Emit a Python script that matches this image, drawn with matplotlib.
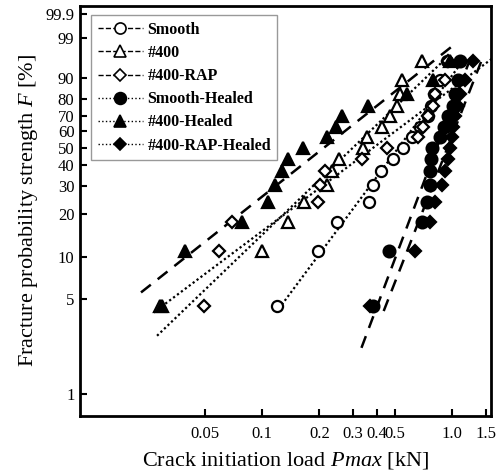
import numpy as np
import matplotlib
matplotlib.use("Agg")
import matplotlib.pyplot as plt
from matplotlib.lines import Line2D

plt.rcParams['font.family'] = ['Liberation Serif', 'DejaVu Serif']
plt.rcParams['mathtext.fontset'] = 'custom'
plt.rcParams['mathtext.rm'] = 'Liberation Serif'
plt.rcParams['mathtext.it'] = 'Liberation Serif:italic'

# cumulative fracture probability F [%] (median ranks, n = 15)
F = [4.5, 11.0, 17.5, 24.0, 30.5, 37.0, 43.5, 50.0, 56.5, 63.0, 69.5, 76.0, 82.5, 89.0, 95.5]

# crack initiation load Pmax [kN], sorted
smooth = [0.119, 0.197, 0.248, 0.366, 0.384, 0.423, 0.489, 0.552, 0.616, 0.679, 0.748, 0.775, 0.804, 0.865, 0.941]
p400 = [0.029, 0.100, 0.137, 0.166, 0.220, 0.234, 0.254, 0.340, 0.357, 0.428, 0.472, 0.514, 0.533, 0.546, 0.695]
p400_rap = [0.0495, 0.0594, 0.0695, 0.197, 0.202, 0.215, 0.336, 0.455, 0.662, 0.704, 0.748, 0.794, 0.814, 0.919, 0.953]
smooth_h = [0.384, 0.466, 0.695, 0.739, 0.766, 0.766, 0.775, 0.785, 0.865, 0.908, 0.953, 1.012, 1.037, 1.075, 1.102]
p400_h = [0.0298, 0.0393, 0.0785, 0.1075, 0.117, 0.127, 0.137, 0.164, 0.220, 0.245, 0.264, 0.361, 0.580, 0.794, 0.976]
p400_rap_h = [0.370, 0.639, 0.766, 0.814, 0.886, 0.919, 0.953, 0.976, 1.000, 1.012, 1.037, 1.075, 1.102, 1.170, 1.290]

labels = ['Smooth', '#400', '#400-RAP', 'Smooth-Healed', '#400-Healed', '#400-RAP-Healed']
loads = [smooth, p400, p400_rap, smooth_h, p400_h, p400_rap_h]
# range of F [%] covered by each Weibull fit line
fit_range = [(4.0, 95.0), (2.7, 96.0), (4.0, 96.0), (2.2, 97.0), (5.6, 98.5), (4.1, 96.5)]

yticks = [1, 5, 10, 20, 30, 40, 50, 60, 70, 80, 90, 99, 99.9]
xticks = [0.05, 0.1, 0.2, 0.3, 0.4, 0.5, 1.0, 1.5]
xticklabels = ['0.05', '0.1', '0.2', '0.3', '0.4', '0.5', '1.0', '1.5']


def weib(p):
    p = np.clip(np.asarray(p, dtype=float), 1e-9, 100 - 1e-9) / 100.0
    return np.log(-np.log(1 - p))


def weib_inv(w):
    return 100.0 * (1 - np.exp(-np.exp(np.asarray(w, dtype=float))))


markers = ['o', '^', 'D', 'o', '^', 'D']
filled = [False, False, False, True, True, True]
msize = [8, 9, 6.5, 8.5, 9, 6.5]
line_style = [(0, (1, 1.2)), (0, (1, 1.2)), (0, (1, 1.2)), (0, (5, 3.5)), (0, (5, 3.5)), (0, (5, 3.5))]

fig = plt.figure(figsize=(4.97, 4.75), dpi=100)
ax = fig.add_axes([80 / 497, 1 - 416 / 475, 411 / 497, 410 / 475])
ax.set_xscale('log')
ax.set_yscale('function', functions=(weib, weib_inv))

for x, lab, mk, fl, ms, ls, (flo, fhi) in zip(loads, labels, markers, filled, msize, line_style, fit_range):
    x = np.array(x)
    w = weib(F)
    m, b = np.polyfit(np.log(x), w, 1)
    wl = weib([flo, fhi])
    xl = np.exp((wl - b) / m)
    ax.plot(xl, [flo, fhi], color='k', lw=1.6 if not fl else 1.8, linestyle=ls, zorder=2)
    ax.plot(x, F, linestyle='none', marker=mk, ms=ms, mfc='k' if fl else 'white',
            mec='k', mew=1.6, zorder=3)

ax.set_xlim(0.011, 1.6)
ax.set_ylim(0.687, 99.9636)
ax.set_yticks(yticks)
ax.set_yticklabels([str(t) for t in yticks])
ax.set_xticks(xticks)
ax.set_xticklabels(xticklabels)
ax.minorticks_off()
ax.yaxis.set_minor_locator(matplotlib.ticker.NullLocator())
ax.xaxis.set_minor_locator(matplotlib.ticker.NullLocator())
ax.tick_params(direction='in', length=5, width=1.5, labelsize=12, top=False, right=False)
ax.tick_params(axis='x', pad=7)
ax.tick_params(axis='y', pad=4)
for s in ax.spines.values():
    s.set_linewidth(2)

ax.set_xlabel('Crack initiation load $Pmax$ [kN]', fontsize=16, labelpad=6)
ax.set_ylabel('Fracture probability strength $F$ [%]', fontsize=16, labelpad=4)

handles = []
for lab, mk, fl, ms in zip(labels, markers, filled, msize):
    handles.append(Line2D([], [], color='k', lw=1.0, linestyle='--' if not fl else ':',
                          marker=mk, ms=ms, mfc='k' if fl else 'white', mec='k', mew=1.2))
leg = ax.legend(handles, labels, loc='upper left', bbox_to_anchor=(0.02, 0.985),
                prop={'weight': 'bold', 'size': 11.5}, frameon=True, fancybox=False,
                edgecolor='0.5', handlelength=2.8, labelspacing=0.45, borderpad=0.4,
                handletextpad=0.3, borderaxespad=0.2)
leg.get_frame().set_linewidth(1.0)

fig.savefig('out.png', dpi=100)
